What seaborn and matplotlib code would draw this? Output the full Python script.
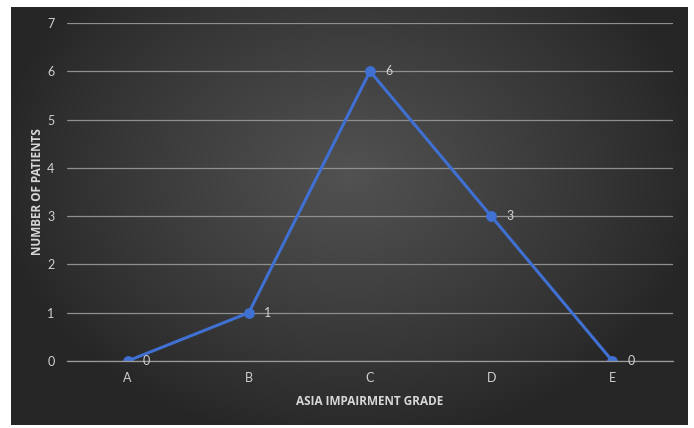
import numpy as np
import pandas as pd
import matplotlib
matplotlib.use("Agg")
import matplotlib.pyplot as plt
import seaborn as sns

grades = ["A", "B", "C", "D", "E"]
patients = [0, 1, 6, 3, 0]
y_ticks = [0, 1, 2, 3, 4, 5, 6, 7]

sns.set_style("dark")
plt.rcParams["font.family"] = ["Lato", "DejaVu Sans"]

W, H = 694, 428
fig = plt.figure(figsize=(W / 100, H / 100), dpi=100)
fig.patch.set_facecolor("white")

# dark panel with a soft radial gradient, brightest toward the upper middle
bg = fig.add_axes([11 / W, 3 / H, (688 - 11) / W, (421 - 3) / H])
bg.set_axis_off()
gx, gy = np.meshgrid(np.linspace(-1, 1, 400), np.linspace(-1, 1, 260))
r = np.sqrt((gx / 1.05) ** 2 + ((gy - 0.2) / 1.3) ** 2)
shade = np.clip(1 - r, 0, 1)
lo, hi = 0.15, 0.32
img = lo + (hi - lo) * shade ** 0.9
bg.imshow(np.dstack([img, img, img]), aspect="auto", extent=[0, 1, 0, 1], origin="lower")
bg.set_xlim(0, 1)
bg.set_ylim(0, 1)

ax = fig.add_axes([67 / W, (H - 361) / H, (673 - 67) / W, (361 - 23) / H])
ax.set_facecolor("none")

df = pd.DataFrame({"grade": grades, "patients": patients})
line_color = "#3F70D2"
sns.lineplot(data=df, x="grade", y="patients", ax=ax, color=line_color,
             linewidth=2.2, marker="o", markersize=7, markeredgecolor=line_color,
             sort=False)

ax.set_xlim(-0.5, len(grades) - 0.5)
ax.set_ylim(0, 7)
ax.set_yticks(y_ticks)
ax.grid(axis="y", color="#8f8f8f", linewidth=0.9)
ax.grid(axis="x", visible=False)
ax.set_axisbelow(True)

for s in ["top", "right", "left"]:
    ax.spines[s].set_visible(False)
ax.spines["bottom"].set_color("#9a9a9a")
ax.spines["bottom"].set_linewidth(0.9)

ax.tick_params(axis="y", length=0, pad=9, labelsize=9, labelcolor="#d0d0d0")
ax.set_xticks(range(len(grades)))
ax.set_xticklabels(grades)
ax.tick_params(axis="x", length=0, pad=8, labelsize=9, labelcolor="#d0d0d0")
# tick marks at the category boundaries
ax.set_xticks(np.arange(-0.5, len(grades), 1.0), minor=True)
ax.tick_params(axis="x", which="minor", length=5, width=0.9, color="#9a9a9a", direction="out")

for i, v in enumerate(patients):
    ax.annotate(str(v), (i, v), xytext=(11, 0), textcoords="offset points",
                va="center", ha="left", fontsize=9, color="#d0d0d0")

label_font = dict(family=["Open Sans", "DejaVu Sans"], size=8.5, weight="bold")
ax.set_xlabel("ASIA IMPAIRMENT GRADE", fontdict=label_font, color="#d8d8d8", labelpad=8)
ax.set_ylabel("NUMBER OF PATIENTS", fontdict=label_font, color="#d8d8d8", labelpad=2)

fig.savefig("out.png", dpi=100, facecolor="white")
